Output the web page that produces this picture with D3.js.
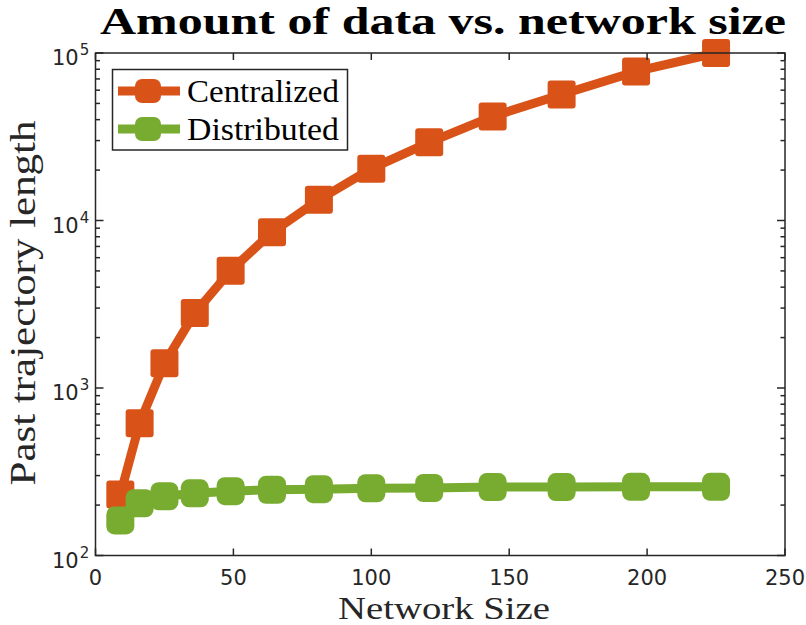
<!DOCTYPE html>
<html><head><meta charset="utf-8">
<script src="https://cdn.jsdelivr.net/npm/d3@7"></script>
<style>body{margin:0;background:#fff}svg{display:block}</style>
</head><body>
<svg id="c" width="806" height="625"></svg>
<script>
const networkSize = [9,16,25,36,49,64,81,100,121,144,169,196,225];
const centralized = [231,617,1406,2800,5020,8500,13300,20400,29300,41800,56500,77600,100000];
const distributed = [162,205,226,235,242,247,249,252,253,256,256,257,257];
const xTicks = [0,50,100,150,200,250];
const yMajor = [100,1000,10000,100000];
const yExp = ["2","3","4","5"];
const seriesNames = ["Centralized","Distributed"];
const colors = ["#D95319","#77AC30"];

const svg = d3.select("#c");
const L=95.5, R=785, T=53, B=555.5;
const x = d3.scaleLinear().domain([0,250]).range([L,R]);
const y = d3.scaleLog().domain([100,100000]).range([B,T]);
const axisColor = "#262626";

const minor = [];
for (const d of [100,1000,10000]) for (let k=2;k<=9;k++) minor.push(d*k);

const g = svg.append("g");

const line = d3.line().x((d,i)=>x(networkSize[i])).y(d=>y(d));
[centralized, distributed].forEach((s,si)=>{
  g.append("path").attr("d",line(s)).attr("fill","none").attr("stroke",colors[si])
    .attr("stroke-width",9).attr("stroke-linejoin","round");
});
const ms = 28;
[centralized, distributed].forEach((s,si)=>{
  g.selectAll(null).data(s).enter().append("rect")
    .attr("x",(d,i)=>x(networkSize[i])-ms/2).attr("y",d=>y(d)-ms/2)
    .attr("width",ms).attr("height",ms).attr("rx",si===0?3:8)
    .attr("fill",colors[si]);
});

g.append("rect").attr("x",L).attr("y",T).attr("width",R-L).attr("height",B-T)
  .attr("fill","none").attr("stroke",axisColor).attr("stroke-width",1.5);

xTicks.forEach(v=>{
  g.append("line").attr("x1",x(v)).attr("x2",x(v)).attr("y1",B).attr("y2",B-7).attr("stroke",axisColor).attr("stroke-width",1.5);
  g.append("line").attr("x1",x(v)).attr("x2",x(v)).attr("y1",T).attr("y2",T+7).attr("stroke",axisColor).attr("stroke-width",1.5);
  g.append("text").attr("x",x(v)).attr("y",585).attr("text-anchor","middle")
    .attr("font-family","DejaVu Sans").attr("font-size",21).attr("fill",axisColor).text(v);
});
yMajor.forEach((v,i)=>{
  g.append("line").attr("x1",L).attr("x2",L+8).attr("y1",y(v)).attr("y2",y(v)).attr("stroke",axisColor).attr("stroke-width",1.5);
  g.append("line").attr("x1",R).attr("x2",R-8).attr("y1",y(v)).attr("y2",y(v)).attr("stroke",axisColor).attr("stroke-width",1.5);
  const t = g.append("text").attr("x",52).attr("y",y(v)+12)
    .attr("font-family","DejaVu Sans").attr("font-size",21).attr("fill",axisColor);
  t.append("tspan").text("10");
  t.append("tspan").attr("font-size",15).attr("dx",1).attr("dy",-10).text(yExp[i]);
});
minor.forEach(v=>{
  g.append("line").attr("x1",L).attr("x2",L+4.5).attr("y1",y(v)).attr("y2",y(v)).attr("stroke",axisColor).attr("stroke-width",1.5);
  g.append("line").attr("x1",R).attr("x2",R-4.5).attr("y1",y(v)).attr("y2",y(v)).attr("stroke",axisColor).attr("stroke-width",1.5);
});

const lg = svg.append("g");
lg.append("rect").attr("x",112.5).attr("y",69.5).attr("width",235).attr("height",80.5)
  .attr("fill","#fff").attr("stroke",axisColor).attr("stroke-width",1.5);
const rowsY=[91,129];
seriesNames.forEach((n,i)=>{
  lg.append("line").attr("x1",118).attr("x2",180).attr("y1",rowsY[i]).attr("y2",rowsY[i])
    .attr("stroke",colors[i]).attr("stroke-width",9);
  lg.append("rect").attr("x",148-13).attr("y",rowsY[i]-12).attr("width",26).attr("height",24).attr("rx",7)
    .attr("fill",colors[i]);
  lg.append("text").attr("x",187).attr("y",rowsY[i]+11).attr("font-family","Liberation Serif")
    .attr("font-size",31).attr("fill","#000").attr("textLength",152).attr("lengthAdjust","spacingAndGlyphs").text(n);
});

svg.append("text").attr("x",443).attr("y",34).attr("text-anchor","middle")
  .attr("font-family","Liberation Serif").attr("font-weight","bold").attr("font-size",37)
  .attr("textLength",686).attr("lengthAdjust","spacingAndGlyphs").attr("fill","#000")
  .text("Amount of data vs. network size");
svg.append("text").attr("x",444).attr("y",619).attr("text-anchor","middle")
  .attr("font-family","Liberation Serif").attr("font-size",32).attr("fill",axisColor)
  .attr("textLength",212).attr("lengthAdjust","spacingAndGlyphs").text("Network Size");
svg.append("text").attr("transform","translate(35,303) rotate(-90)").attr("text-anchor","middle")
  .attr("font-family","Liberation Serif").attr("font-size",36).attr("fill",axisColor)
  .attr("textLength",365).attr("lengthAdjust","spacingAndGlyphs").text("Past trajectory length");
</script>
</body></html>
